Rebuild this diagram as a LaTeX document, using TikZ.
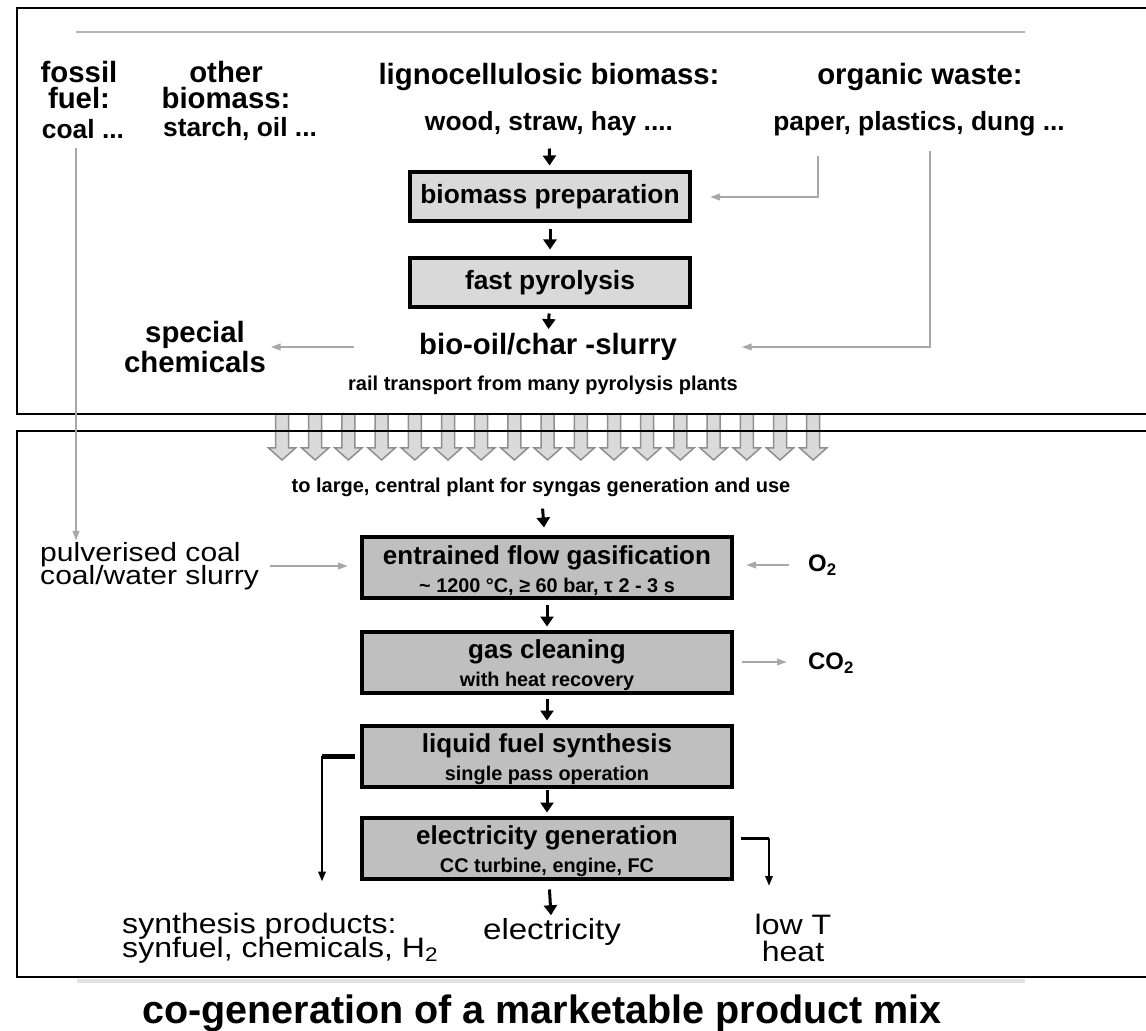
\documentclass[tikz,border=0pt]{standalone}
\usepackage{fontspec}
\setmainfont{Liberation Sans}
\newfontfamily\widesans[FakeStretch=1.14]{Liberation Sans}
\usetikzlibrary{arrows.meta,positioning,calc}
\definecolor{boxlight}{HTML}{D9D9D9}
\definecolor{boxdark}{HTML}{BFBFBF}
\definecolor{feedgrey}{HTML}{A8A8A8}
\definecolor{rulegrey}{HTML}{B4B4B4}
\definecolor{shadegrey}{HTML}{E2E2E2}
\definecolor{chutegrey}{HTML}{DADADA}
\definecolor{chuteline}{HTML}{8F8F8F}
\newcommand{\fsz}[2]{\fontsize{#1}{#2}\selectfont}
\newcommand{\subline}[1]{\\{\fsz{11.3}{13}#1}}

\begin{document}
\lineskiplimit=-20pt
\begin{tikzpicture}[x=0.2mm,y=-0.2mm,
    txt/.style={inner sep=0.5pt},
    head/.style={txt,font=\bfseries\fsz{16.7}{14.6},align=center},
    item/.style={txt,font=\bfseries\fsz{15}{17}},
    note/.style={txt,font=\bfseries\fsz{11.4}{13}},
    plain/.style={txt,font=\widesans\fsz{15}{13.3},align=left},
    prebox/.style={draw,line width=0.8mm,fill=boxlight,minimum width=5.6cm,minimum height=0.98cm,font=\bfseries\fsz{15}{17}},
    mainbox/.style={draw,line width=0.8mm,fill=boxdark,inner sep=0pt,minimum width=7.4cm,minimum height=1.22cm,align=center,font=\bfseries\fsz{14.8}{16}},
    flow/.style={-{Triangle[width=2.6mm,length=2mm]},line width=0.6mm},
    feed/.style={-{Triangle[width=1.3mm,length=2mm]},line width=0.45mm,feedgrey},
    tap/.style={-{Triangle[width=1.4mm,length=2mm]},line width=0.5mm},
    frame/.style={line width=0.5mm},
    chute/.style={draw=chuteline,fill=chutegrey,line width=0.3mm}
    ]
    \useasboundingbox (0,0) rectangle (1146,1031);

    % feedstocks
    \node[head] (fossil) at (79,85) {fossil\\fuel:};
    \node[head] (other) at (226,85) {other\\biomass:};
    \node[head] (ligno) at (549,77) {lignocellulosic biomass:};
    \node[head] (waste) at (920,77) {organic waste:};
    \node[item] (coal) at (83,129) {coal ...};
    \node[item] (starch) at (240,129) {starch, oil ...};
    \node[item] (wood) at (549,124) {wood, straw, hay ....};
    \node[item] (paper) at (919,124) {paper, plastics, dung ...};

    % decentral pyrolysis
    \node[prebox] (prep) at (550,197) {biomass preparation};
    \node[prebox] (pyro) [below=6.6mm of prep] {fast pyrolysis};
    \node[head] (slurry) at (548,347) {bio-oil/char -slurry};
    \node[note] (rail) at (543,385) {rail transport from many pyrolysis plants};
    \node[head,font=\bfseries\fsz{16.7}{17.6}] (special) at (195,347) {special\\chemicals};

    \foreach \k in {0,...,16}
      \draw[chute] ({282+33.2*\k-6.5},415) -- ++(0,33) -- ++(-7,0) -- ({282+33.2*\k},460)
        -- ({282+33.2*\k+13.5},448) -- ++(-7,0) -- ++(0,-33);

    % central plant
    \node[note] (syngas) at (541,487) {to large, central plant for syngas generation and use};
    \node[mainbox] (gasif) at (547,568) {\rule{0pt}{14pt}entrained flow gasification\subline{\textasciitilde{} 1200 °C, ≥ 60 bar, τ 2 - 3 s}};
    \node[mainbox] (clean) [below=5.8mm of gasif] {\rule{0pt}{14pt}gas cleaning\subline{with heat recovery}};
    \node[mainbox] (synth) [below=5.8mm of clean] {\rule{0pt}{14pt}liquid fuel synthesis\subline{single pass operation}};
    \node[mainbox] (elec) [below=5.4mm of synth] {\rule{0pt}{14pt}electricity generation\subline{CC turbine, engine, FC}};

    \node[plain] (pulv) [anchor=west] at (39,566) {pulverised coal\\coal/water slurry};
    \node[txt,font=\bfseries\fsz{13.6}{16}] (otwo) [anchor=west] at (807,565) {O\textsubscript{2}};
    \node[txt,font=\bfseries\fsz{13.6}{16}] (cotwo) [anchor=west] at (807,663) {CO\textsubscript{2}};

    \node[plain,font=\widesans\fsz{16}{13.6}] (prod) [anchor=west] at (121,938) {synthesis products:\\synfuel, chemicals, H\textsubscript{2}};
    \node[txt,font=\widesans\fsz{16.5}{20}] (power) at (552,932) {electricity};
    \node[plain,align=center,font=\widesans\fsz{16}{15.2}] (heat) at (793,938) {low T\\heat};
    \node[txt,font=\bfseries\fsz{22.5}{26}] (title) at (542,1013) {co-generation of a marketable product mix};

    % frames and rules
    \draw[rulegrey,line width=0.4mm] (76,32) -- (1025,32);
    \draw[frame] (1160,8) -| (17,414) -- (1160,414);
    \draw[frame] (1160,431) -| (17,977) -- (1160,977);
    \draw[shadegrey,line width=0.8mm] (77,981) -- (1025,981);

    % main line
    \draw[flow,shorten <=2.2mm,shorten >=1mm] (wood) -- (prep);
    \draw[flow,shorten <=1.2mm,shorten >=1.4mm] (prep) -- (pyro);
    \draw[flow,shorten <=0.8mm,shorten >=0.6mm] (pyro) -- (slurry);
    \draw[flow,shorten <=2.2mm,shorten >=1.6mm] (syngas) -- (gasif);
    \draw[flow,shorten <=1mm,shorten >=0.6mm] (gasif) -- (clean);
    \draw[flow,shorten <=0.8mm,shorten >=0.6mm] (clean) -- (synth);
    \draw[flow,shorten <=0.2mm,shorten >=0.6mm] (synth) -- (elec);
    \draw[flow,shorten <=1.8mm,shorten >=0.4mm] (elec) -- (power);

    % side streams
    \draw[feed,shorten <=1.6mm] ([xshift=-1.4mm]coal.south) -- ([xshift=-1.4mm]coal.south |- pulv.north);
    \draw[feed,shorten <=3.6mm,shorten >=3.6mm] ([xshift=-20.2mm]paper.south) |- (prep.east);
    \draw[feed,shorten <=2.6mm,shorten >=12.7mm] ([xshift=2.2mm]paper.south) |- (slurry.east);
    \draw[feed,shorten <=12.7mm,shorten >=0.7mm] (slurry.west) -- (special.east |- slurry.west);
    \draw[feed,shorten <=2mm,shorten >=2.4mm] (pulv.east) -- (pulv.east -| gasif.west);
    \draw[feed,shorten <=3.6mm,shorten >=2.4mm] (otwo.west) -- (otwo.west -| gasif.east);
    \draw[feed,shorten <=1.6mm,shorten >=4mm] (clean.east) -- (clean.east -| cotwo.west);

    % products
    \draw[line width=1mm] ([xshift=-1mm]synth.west) -- ++(-33,0) coordinate (synbend);
    \draw[tap,shorten >=6mm] (synbend) -- (synbend |- prod.north);
    \draw[line width=0.6mm] ([shift={(1.4mm,2mm)}]elec.east) -- ++(28,0) coordinate (heatbend);
    \draw[tap,shorten >=5.4mm] (heatbend) -- (heatbend |- heat.north);
\end{tikzpicture}
\end{document}
